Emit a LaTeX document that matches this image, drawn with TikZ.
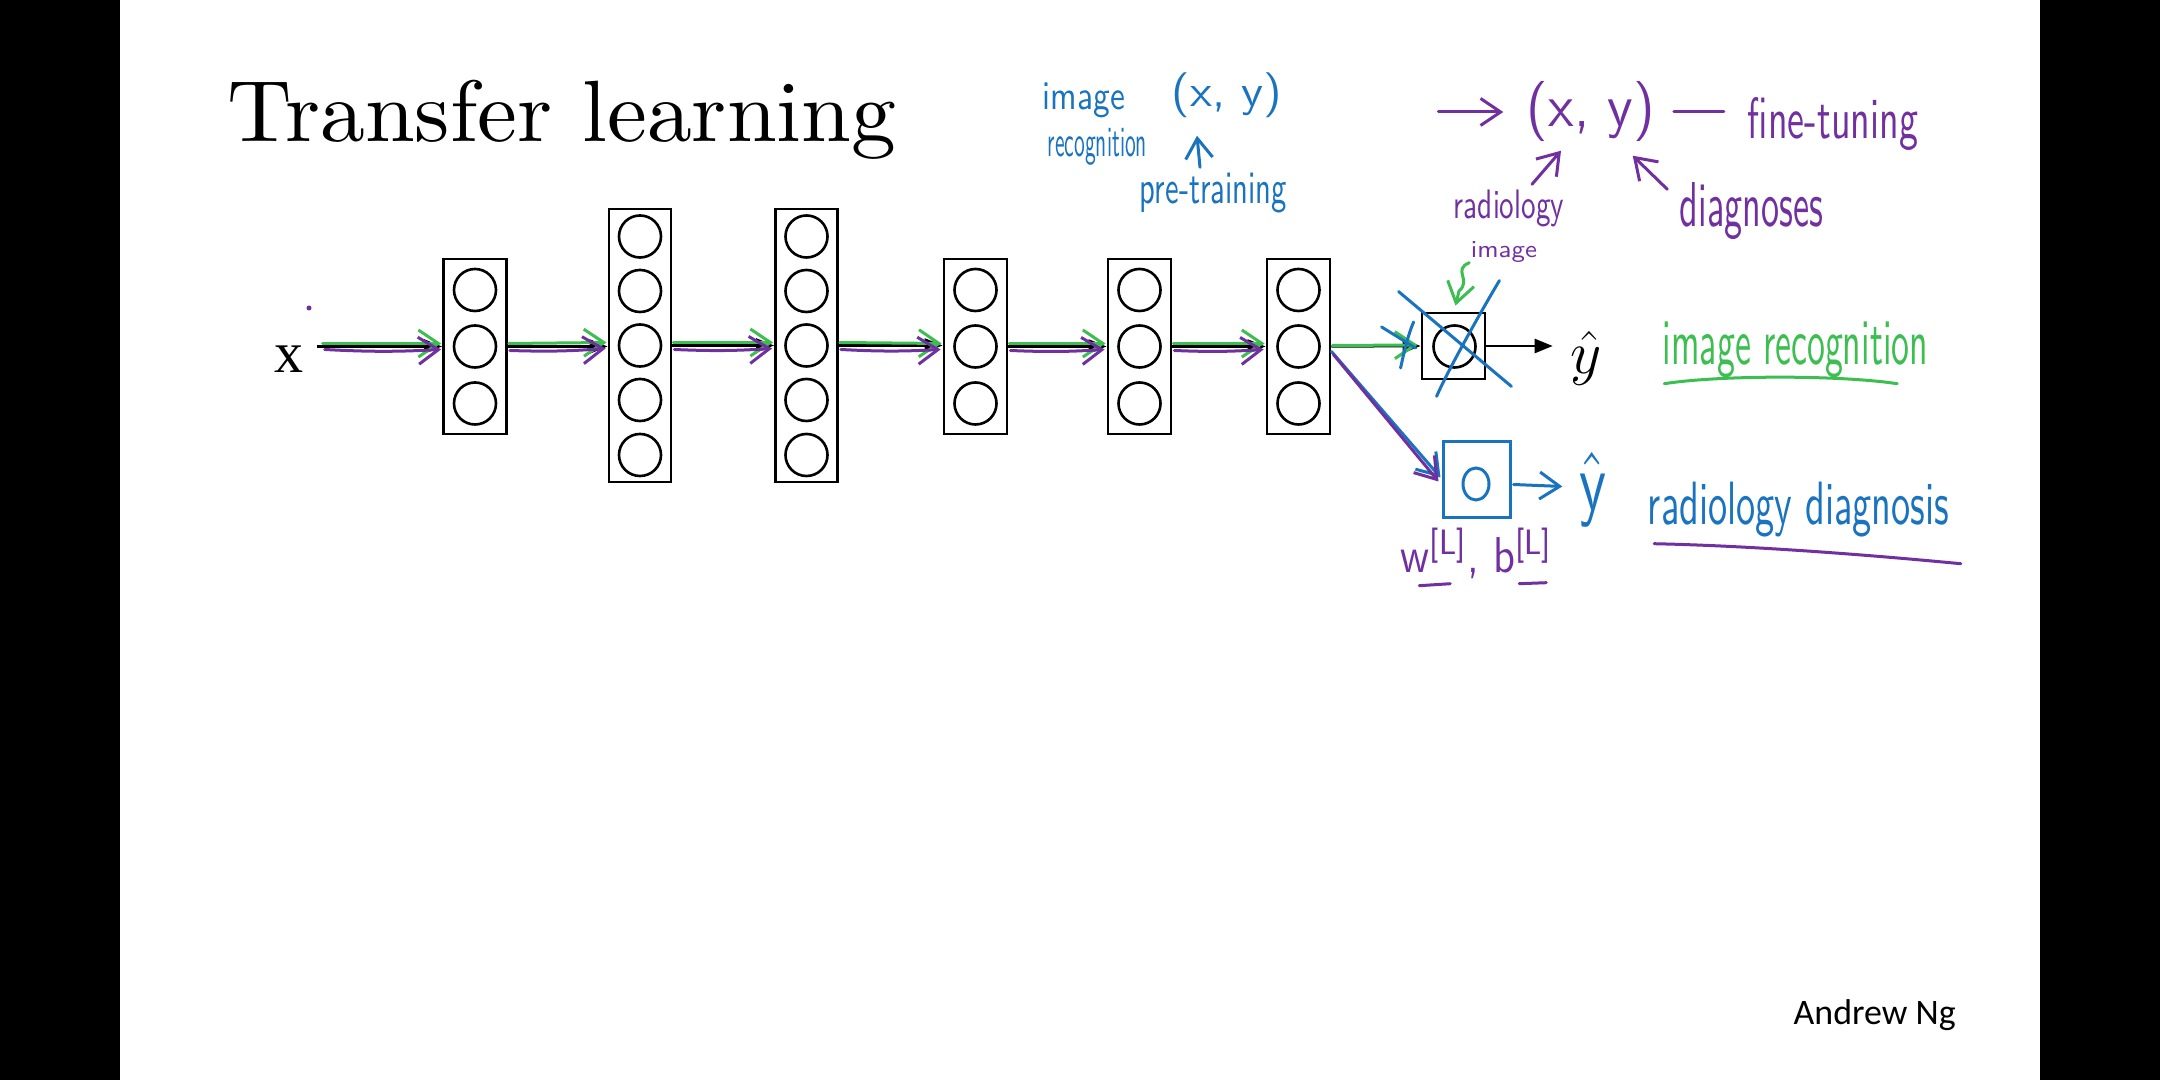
\documentclass[tikz,border=0pt]{standalone}
\usepackage{fontspec}
\newfontfamily\ngfont{Carlito}
\newfontfamily\serifx{Liberation Serif}
\newfontfamily\titlefont{lmroman10-regular.otf}
\usetikzlibrary{arrows.meta,calc,shapes.geometric}
\definecolor{inkblue}{RGB}{25,115,190}
\definecolor{inkpurple}{RGB}{112,48,160}
\definecolor{inkgreen}{RGB}{60,190,80}
% handwritten label, stretched to a given width and total height
\newcommand\hw[3]{\resizebox*{#1}{#2}{\sffamily #3}}

\begin{document}
\begin{tikzpicture}[x=0.01cm,y=-0.01cm,
  layer/.style={draw=black,line width=0.028cm,minimum width=0.63cm,inner sep=0},
  unit/.style={draw=black,circle,line width=0.026cm,minimum size=0.42cm,inner sep=0},
  slidearrow/.style={draw=black,line width=0.025cm,-{Triangle[length=0.18cm,width=0.14cm]}},
  ink/.style={line width=0.03cm,line cap=round,line join=round},
  barb/.style={-{Straight Barb[length=0.2cm,width=0.27cm]}},
  hand/.style={inner sep=0},
]
\useasboundingbox (0,0) rectangle (2160,1080);
\fill[black] (0,0) rectangle (120,1080);
\fill[black] (2040,0) rectangle (2160,1080);
\fill[white] (120,0) rectangle (2040,1080);

% title and author
\node[anchor=base west,inner sep=0,font=\titlefont\fontsize{24.75}{30}\selectfont] (title) at (227,142) {\scalebox{1.03}[1]{Transfer learning}};
\node[anchor=base west,inner sep=0,font=\ngfont\fontsize{10.2}{12}\selectfont] (author) at (1793,1025) {Andrew Ng};

% input
\node[anchor=base,inner sep=0,font=\serifx\fontsize{16.5}{20}\selectfont] (xin) at (289.5,373) {x};

% layers of the network
\node[layer,minimum height=1.75cm] (L1) at (475,346.5) {};
\node[layer,minimum height=2.73cm,minimum width=0.62cm] (L2) at (640,345.5) {};
\node[layer,minimum height=2.73cm,minimum width=0.62cm] (L3) at (806.5,345.5) {};
\node[layer,minimum height=1.75cm] (L4) at (975.5,346.5) {};
\node[layer,minimum height=1.75cm] (L5) at (1139.5,346.5) {};
\node[layer,minimum height=1.75cm] (L6) at (1298.5,346.5) {};
\foreach \l/\x in {L1/475,L4/975.5,L5/1139.5,L6/1298.5}
  \foreach \i/\y in {a/290,b/346.5,c/403.5}
    \node[unit] (\l\i) at (\x,\y) {};
\foreach \l/\x in {L2/640,L3/806.5}
  \foreach \i/\y in {a/236.5,b/291,c/345.5,d/400,e/455}
    \node[unit] (\l\i) at (\x,\y) {};

% output unit
\node[layer,minimum width=0.63cm,minimum height=0.66cm] (Out) at (1453.5,346) {};
\node[unit] (Outc) at (1454.5,346.5) {};
\node[inner sep=0,font=\fontsize{17.6}{21}\selectfont] (yhat) at (1586,358.5) {$\hat{y}$};

% printed arrows
\coordinate (xs) at ($(xin.east)+(12,0)$);
\coordinate (yin) at ($(yhat.west)+(-17,0)$);
\draw[slidearrow] (xs |- L1.west) -- (L1.west);
\draw[slidearrow] (L1.east) -- (L2.west |- L1.east);
\draw[slidearrow] (L2.east) -- (L3.west);
\draw[slidearrow] (L3.east) -- (L4.west |- L3.east);
\draw[slidearrow] (L4.east) -- (L5.west);
\draw[slidearrow] (L5.east) -- (L6.west);
\draw[slidearrow] (L6.east) -- (Out.west);
\draw[slidearrow] (Out.east) -- (yin |- Out.east);

% ink: forward pass traced in green and purple
\draw[ink,inkgreen,barb] ($(xs |- L1.west)+(6,-3)$) -- ($(L1.west)+(-1,-3)$);
\draw[ink,inkpurple,barb] ($(xs |- L1.west)+(8,3)$) to[bend right=3] ($(L1.west)+(-1,3)$);
\foreach \a/\b in {L1/L2,L2/L3,L3/L4,L4/L5,L5/L6}{
  \draw[ink,inkgreen,barb] ($(\a.east)+(1,-3)$) -- ($(\b.west)+(-1,-3)$);
  \draw[ink,inkpurple,barb] ($(\a.east)+(2,4)$) to[bend right=3] ($(\b.west)+(-2,3)$);
}
\draw[ink,inkgreen,barb] ($(L6.east)+(1,-1)$) -- ($(Out.west)+(-3,-1)$);
\fill[inkpurple] (309,308) circle[radius=0.025cm];

% old output crossed out
\draw[ink,inkblue] ($(Out.north west)+(-22,-20)$) -- ($(Out.south east)+(25,6)$);
\draw[ink,inkblue] ($(Out.north east)+(13,-31)$) .. controls (1483,308) and (1448,370) .. ($(Out.south west)+(16,16)$);
\draw[ink,inkblue] ($(Out.west)+(-39,-19)$) -- ($(Out.west)+(-5,2)$);
\draw[ink,inkblue] ($(Out.west)+(-7,-24)$) .. controls (1408,335) and (1404,352) .. ($(Out.west)+(-20,22)$);

% new output unit
\node[draw=inkblue,line width=0.03cm,minimum width=0.66cm,minimum height=0.75cm,inner sep=0] (nb) at (1477,479.5) {};
\node[draw=inkblue,line width=0.03cm,ellipse,minimum width=0.26cm,minimum height=0.32cm,inner sep=0] (nbc) at (1476,484) {};
\node[hand,text=inkblue] (byh) at (1592.5,489.5) {\hw{0.27cm}{0.75cm}{$\hat{\mbox{y}}$}};
\draw[ink,inkblue,barb] ($(nb.east)+(2,5)$) -- ($(byh.west)+(-16,-3)$);
\draw[ink,inkblue,barb] ($(L6.east)+(0,5)$) -- ($(nb.west)+(-2,-2)$);
\draw[ink,inkpurple,barb] ($(L6.east)+(2,8)$) -- ($(nb.west)+(-4,2)$);
\node[hand,text=inkpurple] (pwb) at (1477,553.5) {\hw{1.52cm}{0.51cm}{w\textsuperscript{[L]}, b\textsuperscript{[L]}}};
\draw[ink,inkpurple] ($(pwb.south west)+(19,6)$) -- ($(pwb.south west)+(50,4)$);
\draw[ink,inkpurple] ($(pwb.south west)+(119,4)$) -- ($(pwb.south west)+(146,3)$);

% task labels
\node[hand,text=inkgreen] (gimg) at (1795.5,350) {\hw{2.65cm}{0.56cm}{image recognition}};
\draw[ink,inkgreen] ($(gimg.south west)+(2,5)$) .. controls (1720,375) and (1840,375) .. ($(gimg.south west)+(235,5)$);
\node[hand,text=inkblue] (brd) at (1798.5,509.5) {\hw{3.01cm}{0.55cm}{radiology diagnosis}};
\draw[ink,inkpurple] ($(brd.south west)+(7,6)$) .. controls (1760,546) and (1880,556) .. ($(brd.south east)+(11,26)$);

% pre-training data
\node[hand,text=inkblue] (bimg) at (1084,100.5) {\hw{0.82cm}{0.35cm}{image}};
\node[hand,text=inkblue] (brec) at (1097.5,146.5) {\hw{0.99cm}{0.37cm}{recognition}};
\node[hand,text=inkblue] (bxy) at (1227,95.5) {\hw{1.10cm}{0.45cm}{(x, y)}};
\node[hand,text=inkblue] (bpre) at (1213.5,193) {\hw{1.47cm}{0.40cm}{pre-training}};
\draw[ink,inkblue,barb] ($(bpre.north)+(-13.5,-5)$) -- ($(bxy.south)+(-30,17)$);

% fine-tuning data
\node[hand,text=inkpurple] (pxy) at (1591,112) {\hw{1.28cm}{0.60cm}{(x, y)}};
\node[hand,text=inkpurple] (pfine) at (1833,123.5) {\hw{1.70cm}{0.53cm}{fine-tuning}};
\node[hand,text=inkpurple] (prad) at (1509,208.5) {\hw{1.10cm}{0.37cm}{radiology}};
\node[hand,text=inkpurple] (pimg) at (1504,252.5) {\hw{0.66cm}{0.21cm}{image}};
\node[hand,text=inkpurple] (pdiag) at (1751.5,211.5) {\hw{1.43cm}{0.57cm}{diagnoses}};
\draw[ink,inkpurple,barb] ($(pxy.west)+(-88,0)$) -- ($(pxy.west)+(-23,0)$);
\draw[ink,inkpurple] ($(pxy.east)+(18,0)$) -- ($(pxy.east)+(68,0)$);
\draw[ink,inkpurple,barb] ($(prad.north)+(23,-5)$) -- ($(pxy.south)+(-30,8)$);
\draw[ink,inkpurple,barb] ($(pdiag.north west)+(-12,7)$) -- ($(pxy.south east)+(-23,13)$);
\draw[ink,inkgreen,barb] ($(pimg.south west)+(-1,-1)$) .. controls (1452,270) and (1472,280) .. (1459,291) -- ($(Out.north)+(2,-6)$);
\end{tikzpicture}
\end{document}
